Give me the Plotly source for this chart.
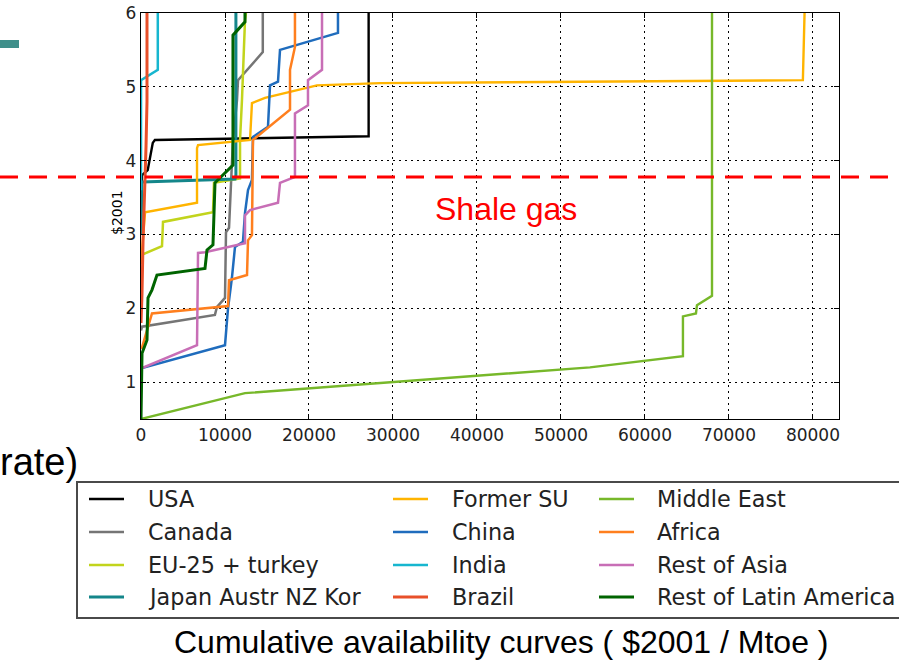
import plotly.graph_objects as go

# ---------------- data ----------------
series_names = ["USA", "Canada", "EU-25 + turkey", "Japan Austr NZ Kor",
                "Former SU", "China", "India", "Brazil",
                "Middle East", "Africa", "Rest of Asia", "Rest of Latin America"]

usa_x = [0, 100, 800, 1400, 1650, 27100, 27100]
usa_y = [3.3, 3.80, 3.87, 4.24, 4.28, 4.33, 6.0]

canada_x = [0, 120, 8800, 9050, 10000, 10120, 10480, 10950, 11430, 11550, 14500, 14500]
canada_y = [1.70, 1.75, 1.91, 2.02, 2.14, 3.03, 3.09, 4.28, 4.82, 5.09, 5.47, 6.0]

eu_x = [0, 2500, 2620, 8570, 8690, 11790, 11790, 12020, 12380, 12500]
eu_y = [2.72, 2.84, 3.17, 3.30, 3.70, 3.76, 4.28, 4.82, 5.90, 6.0]

japan_x = [0, 100, 11200, 11300, 11300]
japan_y = [3.0, 3.71, 3.75, 3.80, 6.0]

fsu_x = [0, 300, 480, 6670, 6670, 6790, 12980, 13210, 14760, 20950, 28450, 78800, 79000]
fsu_y = [2.6, 3.0, 3.30, 3.43, 4.17, 4.21, 4.28, 4.78, 4.85, 5.02, 5.05, 5.09, 6.0]

china_x = [0, 120, 10000, 10360, 10830, 11190, 12140, 12380, 12740, 13210, 13330,
           15120, 15360, 16310, 16550, 23450, 23450]
china_y = [1.17, 1.19, 1.50, 2.00, 2.42, 2.83, 2.90, 3.29, 3.60, 3.74, 4.32,
           4.46, 5.02, 5.07, 5.50, 5.73, 6.0]

india_x = [0, 0, 2000, 2000]
india_y = [3.6, 5.09, 5.23, 6.0]

brazil_x = [0, 120, 240, 480, 600, 714, 714]
brazil_y = [1.8, 2.2, 2.9, 3.6, 4.2, 4.8, 6.0]

me_x = [0, 10000, 12380, 53450, 64520, 64520, 66070, 66190, 67980, 67980]
me_y = [0.5, 0.78, 0.85, 1.20, 1.35, 1.89, 1.93, 2.04, 2.17, 6.0]

africa_x = [0, 120, 714, 1310, 10360, 10480, 12620, 12740, 13210, 13330, 13330,
            17740, 17740, 18330, 18330]
africa_y = [1.45, 1.47, 1.70, 1.93, 2.03, 2.38, 2.45, 2.92, 2.99, 3.74, 4.28,
            4.69, 5.23, 5.54, 6.0]

rasia_x = [0, 120, 6670, 6790, 7620, 12380, 12380, 12980, 16310, 16550, 18330,
           18330, 19880, 19880, 21550, 21550]
rasia_y = [1.17, 1.19, 1.50, 2.75, 2.76, 2.88, 3.26, 3.33, 3.43, 3.70, 3.78,
           4.64, 4.75, 5.09, 5.23, 6.0]

rla_x = [0, 120, 714, 833, 1310, 1900, 7620, 7860, 8570, 8810, 10950, 10950, 12380, 12380]
rla_y = [0.5, 1.39, 1.57, 2.14, 2.25, 2.45, 2.54, 2.79, 2.86, 3.70, 3.94, 5.70, 5.88, 6.0]

series_x = [usa_x, canada_x, eu_x, japan_x, fsu_x, china_x, india_x, brazil_x,
            me_x, africa_x, rasia_x, rla_x]
series_y = [usa_y, canada_y, eu_y, japan_y, fsu_y, china_y, india_y, brazil_y,
            me_y, africa_y, rasia_y, rla_y]

colors = ["#000000", "#757575", "#c2d41c", "#14868a",
          "#ffb400", "#1f6cbd", "#17b6cf", "#e8502a",
          "#77b82a", "#ff7f1e", "#c86eb6", "#006400"]
widths = [2.4, 2.5, 2.5, 3, 2.4, 2.5, 2.5, 3, 2.4, 2.5, 2.5, 3]

x_ticks = [0, 10000, 20000, 30000, 40000, 50000, 60000, 70000, 80000]
y_ticks = [1, 2, 3, 4, 5, 6]
x_range = [0, 83100]
y_range = [0.5, 6.0]

shale_gas_level = 3.78
shale_label = "Shale gas"
y_title = "$2001"
caption = "Cumulative availability curves ( $2001 / Mtoe )"
side_text = "rate)"

# ---------------- layout geometry ----------------
W, H = 899, 663
ML, MR, MT, MB = 141, 60, 13, 244
PW = W - ML - MR
PH = H - MT - MB


def px_x(p):
    return (p - ML) / PW


def px_y(p):
    return (H - MB - p) / PH


fig = go.Figure()
for name, xs, ys, c, w in zip(series_names, series_x, series_y, colors, widths):
    fig.add_trace(go.Scatter(x=xs, y=ys, mode="lines", name=name,
                             line=dict(color=c, width=w), showlegend=False,
                             hoverinfo="skip"))

shapes = []
annotations = []

# shale gas dashed line across the whole page
shale_py = (shale_gas_level - y_range[0]) / (y_range[1] - y_range[0])
shapes.append(dict(type="line", xref="paper", yref="paper",
                   x0=px_x(0), x1=px_x(W), y0=shale_py, y1=shale_py,
                   line=dict(color="#ff0000", width=3, dash="18px,11px"),
                   layer="above"))
annotations.append(dict(xref="x", yref="paper", x=43500,
                        y=shale_py - 32 / PH, text=shale_label,
                        showarrow=False, xanchor="center", yanchor="middle",
                        font=dict(family="Liberation Sans", size=32, color="#ff0000")))

# y axis title
annotations.append(dict(xref="paper", yref="paper", x=px_x(117), y=px_y(213),
                        text=y_title, textangle=-90, showarrow=False,
                        xanchor="center", yanchor="middle",
                        font=dict(family="DejaVu Sans", size=14, color="#000000")))

# legend box
shapes.append(dict(type="rect", xref="paper", yref="paper",
                   x0=px_x(77), x1=px_x(910), y0=px_y(482), y1=px_y(618),
                   line=dict(color="#4a4a4a", width=2), fillcolor="white",
                   layer="below"))
col_line_x = [89, 393, 599]
col_text_x = [146, 450, 655]
row_y = [499, 532, 565, 597]
for i, (name, c, w) in enumerate(zip(series_names, colors, widths)):
    col, row = i // 4, i % 4
    lx = col_line_x[col]
    ly = px_y(row_y[row])
    shapes.append(dict(type="line", xref="paper", yref="paper",
                       x0=px_x(lx), x1=px_x(lx + 35), y0=ly, y1=ly,
                       line=dict(color=c, width=w)))
    annotations.append(dict(xref="paper", yref="paper", x=px_x(col_text_x[col]),
                            y=ly, text=name, showarrow=False,
                            xanchor="left", yanchor="middle",
                            font=dict(family="DejaVu Sans", size=22.3, color="#222222")))

# slide decorations
shapes.append(dict(type="rect", xref="paper", yref="paper",
                   x0=px_x(0), x1=px_x(19), y0=px_y(48), y1=px_y(40),
                   line=dict(width=0), fillcolor="#3f8f8a"))
annotations.append(dict(xref="paper", yref="paper", x=px_x(80), y=px_y(462),
                        text=side_text, showarrow=False, xanchor="right",
                        yanchor="middle",
                        font=dict(family="Liberation Sans", size=38, color="#000000")))
annotations.append(dict(xref="paper", yref="paper", x=px_x(501), y=px_y(642),
                        text=caption, showarrow=False, xanchor="center",
                        yanchor="middle",
                        font=dict(family="Liberation Sans", size=32, color="#000000")))

axis_common = dict(showline=True, linecolor="black", linewidth=1.2, mirror="ticks",
                   ticks="inside", ticklen=5, tickcolor="black", tickwidth=1,
                   showgrid=True, gridcolor="black", gridwidth=1, griddash="2px,4px",
                   zeroline=False, automargin=False,
                   tickfont=dict(family="DejaVu Sans", size=17, color="#222222"))

fig.update_layout(
    width=W, height=H,
    margin=dict(l=ML, r=MR, t=MT, b=MB, pad=0, autoexpand=False),
    plot_bgcolor="white", paper_bgcolor="white",
    xaxis=dict(range=x_range, tickvals=x_ticks,
               ticktext=[str(v) for v in x_ticks], **axis_common),
    yaxis=dict(range=y_range, tickvals=y_ticks,
               ticktext=[str(v) for v in y_ticks], **axis_common),
    shapes=shapes, annotations=annotations, showlegend=False,
    hovermode=False,
)

fig.write_html("out.html",
               config={"displayModeBar": False, "staticPlot": True},
               post_script="document.body.style.margin='0px';"
                           "document.body.style.overflow='hidden';")
